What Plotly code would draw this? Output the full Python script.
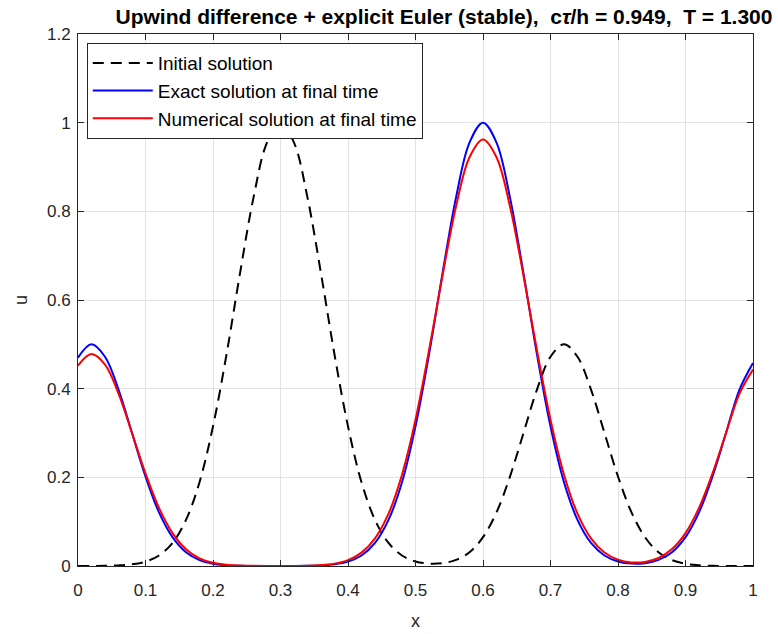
import plotly.graph_objects as go

x_vals = [0.00, 0.02, 0.04, 0.06, 0.08, 0.10, 0.12, 0.14, 0.16, 0.18,
          0.20, 0.22, 0.24, 0.26, 0.28, 0.30, 0.32, 0.34, 0.36, 0.38,
          0.40, 0.42, 0.44, 0.46, 0.48, 0.50, 0.52, 0.54, 0.56, 0.58,
          0.60, 0.62, 0.64, 0.66, 0.68, 0.70, 0.72, 0.74, 0.76, 0.78,
          0.80, 0.82, 0.84, 0.86, 0.88, 0.90, 0.92, 0.94, 0.96, 0.98, 1.00]

u_initial = [0.000, 0.000, 0.0004, 0.0013, 0.0037, 0.0098, 0.0236, 0.0519, 0.104, 0.189,
             0.315, 0.477, 0.660, 0.831, 0.955, 1.000, 0.955, 0.831, 0.660, 0.477,
             0.315, 0.189, 0.104, 0.0519, 0.0237, 0.0103, 0.0054, 0.0064, 0.0137, 0.031,
             0.065, 0.121, 0.202, 0.300, 0.398, 0.472, 0.500, 0.472, 0.398, 0.300,
             0.202, 0.121, 0.065, 0.031, 0.0133, 0.0051, 0.0017, 0.0005, 0.0001, 0.000, 0.000]

u_exact = [0.470, 0.500, 0.472, 0.398, 0.300, 0.202, 0.121, 0.065, 0.031, 0.0133,
           0.0051, 0.0017, 0.0005, 0.0001, 0.000, 0.000, 0.000, 0.0004, 0.0013, 0.0037,
           0.0098, 0.0236, 0.0519, 0.104, 0.189, 0.315, 0.477, 0.660, 0.831, 0.955,
           1.000, 0.955, 0.831, 0.660, 0.477, 0.315, 0.189, 0.104, 0.0519, 0.0237,
           0.0103, 0.0054, 0.0064, 0.0137, 0.031, 0.065, 0.121, 0.202, 0.300, 0.398, 0.458]

u_numerical = [0.452, 0.478, 0.454, 0.389, 0.300, 0.209, 0.131, 0.0742, 0.0379, 0.0174,
               0.0072, 0.0027, 0.0009, 0.0003, 0.0001, 0.0001, 0.0002, 0.0007, 0.0020, 0.0054,
               0.0133, 0.0301, 0.0623, 0.118, 0.206, 0.330, 0.486, 0.655, 0.811, 0.922,
               0.962, 0.922, 0.811, 0.655, 0.486, 0.330, 0.206, 0.118, 0.0623, 0.0304,
               0.0142, 0.0081, 0.0092, 0.0181, 0.0381, 0.0742, 0.131, 0.209, 0.300, 0.389, 0.443]

x_ticks = [0, 0.1, 0.2, 0.3, 0.4, 0.5, 0.6, 0.7, 0.8, 0.9, 1]
x_tick_labels = ["0", "0.1", "0.2", "0.3", "0.4", "0.5", "0.6", "0.7", "0.8", "0.9", "1"]
y_ticks = [0, 0.2, 0.4, 0.6, 0.8, 1.0, 1.2]
y_tick_labels = ["0", "0.2", "0.4", "0.6", "0.8", "1", "1.2"]

FONT = "Liberation Sans, Arial, sans-serif"

fig = go.Figure()
fig.add_trace(go.Scatter(x=x_vals, y=u_initial, mode="lines", name="Initial solution",
                         line=dict(color="black", width=2, dash="11px,7px", shape="spline")))
fig.add_trace(go.Scatter(x=x_vals, y=u_exact, mode="lines", name="Exact solution at final time",
                         line=dict(color="#0000ff", width=2, shape="spline")))
fig.add_trace(go.Scatter(x=x_vals, y=u_numerical, mode="lines", name="Numerical solution at final time",
                         line=dict(color="#ff0000", width=2, shape="spline")))

axis_common = dict(showline=True, linecolor="#262626", linewidth=1, mirror="ticks",
                   ticks="inside", ticklen=6, tickcolor="#262626", automargin=False,
                   showgrid=True, gridcolor="#e3e3e3", gridwidth=1, zeroline=False,
                   tickfont=dict(family=FONT, size=17, color="#262626"))

fig.update_layout(
    width=778, height=634,
    margin=dict(l=78, r=25, t=34, b=68),
    paper_bgcolor="white", plot_bgcolor="white",
    title=dict(text="<b>Upwind difference + explicit Euler (stable),  c<i>τ</i>/h = 0.949,  T = 1.300</b>",
               x=444 / 778, xanchor="center", y=1 - 17 / 634, yanchor="middle",
               font=dict(family=FONT, size=21, color="black")),
    xaxis=dict(range=[0, 1], tickvals=x_ticks, ticktext=x_tick_labels, ticklabelstandoff=9,
               title=dict(text="x", font=dict(family=FONT, size=18, color="#262626"), standoff=14),
               **axis_common),
    yaxis=dict(range=[0, 1.2], tickvals=y_ticks, ticktext=y_tick_labels, ticklabelstandoff=3,
               title=dict(text="u", font=dict(family=FONT, size=18, color="#262626"), standoff=14),
               **axis_common),
    legend=dict(x=0.013, y=0.983, xanchor="left", yanchor="top",
                bgcolor="white", bordercolor="#262626", borderwidth=1,
                font=dict(family=FONT, size=19, color="black"),
                itemwidth=60, tracegroupgap=0),
    showlegend=True,
)

fig.write_html("out.html")
